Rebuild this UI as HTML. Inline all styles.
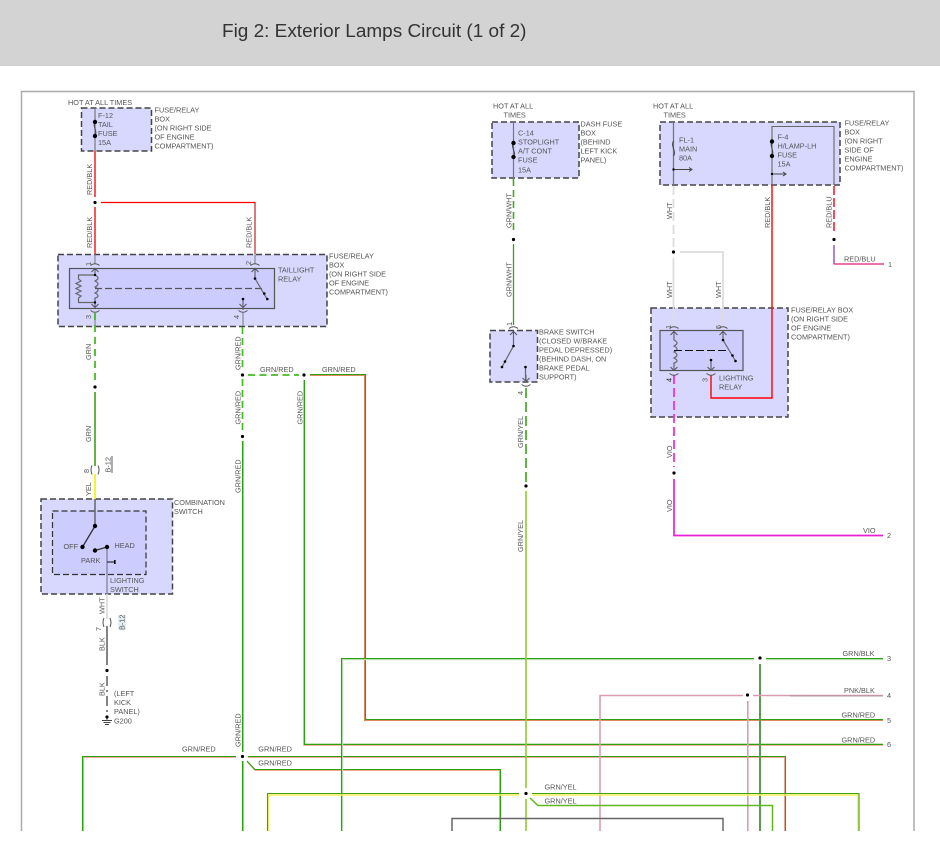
<!DOCTYPE html>
<html><head><meta charset="utf-8"><title>Fig 2: Exterior Lamps Circuit (1 of 2)</title>
<style>
html,body{margin:0;padding:0;background:#fff}
svg{display:block}
text{font-family:"Liberation Sans",sans-serif;font-size:7.3px;fill:#555}
.box{fill:#d8d8ff;stroke:#444;stroke-width:1.5;stroke-dasharray:6 3}
.in{fill:#ccccff;stroke:#555;stroke-width:1.2}
.ind{fill:#ccccff;stroke:#333;stroke-width:1.2;stroke-dasharray:6 3}
.g{fill:none;stroke:#666;stroke-width:1.2}
.k{fill:none;stroke:#444;stroke-width:1}
.p{fill:#000}
</style></head><body>
<svg width="940" height="856" viewBox="0 0 940 856" xmlns="http://www.w3.org/2000/svg">
<defs>
<g id="ct"><path d="M-4.5 1.5Q0 -2 4.5 1.5" fill="none" stroke="#555" stroke-width="1"/><path d="M-3.5 8L0 4.5L3.5 8M0 4.5V11" fill="none" stroke="#555" stroke-width="1"/></g>
<g id="cb"><path d="M-4.5 -1.5Q0 2 4.5 -1.5" fill="none" stroke="#555" stroke-width="1"/><path d="M-3.5 -8L0 -4.5L3.5 -8M0 -4.5V-11" fill="none" stroke="#555" stroke-width="1"/></g>
</defs>
<rect width="940" height="66" fill="#d3d3d3"/>
<text x="222" y="37" textLength="304.5" lengthAdjust="spacingAndGlyphs" style="font-size:18px;fill:#333">Fig 2: Exterior Lamps Circuit (1 of 2)</text>
<path d="M21.5 831V91.5H914V831" fill="none" stroke="#aaa" stroke-width="1.5"/>

<!-- boxes -->
<rect class="box" x="81.5" y="108" width="70" height="43"/>
<rect class="box" x="58" y="254.5" width="269" height="72"/>
<rect class="in" x="69.5" y="268.5" width="205" height="40"/>
<rect class="box" x="41" y="499" width="131.500" height="95"/>
<rect class="ind" x="52.500" y="511" width="93.500" height="63.500"/>
<rect class="box" x="492" y="122" width="87" height="56"/>
<rect class="box" x="660" y="122" width="180" height="63"/>
<rect class="box" x="490" y="330.500" width="47.500" height="51.500"/>
<rect class="box" x="651" y="308" width="137" height="109"/>
<rect class="in" x="660" y="330.500" width="83" height="40"/>

<!-- left column wires -->
<g fill="none">
<path d="M95 108V151" stroke="#777" stroke-width="1.2"/>
<path d="M95 151V197M95 207V254" stroke="#f03030" stroke-width="1.6"/>
<path d="M101 202.500H255V254" stroke="#f00" stroke-width="1.3"/>
<path d="M255 202.500V254" stroke="#777" stroke-width=".6"/>
<path d="M95 254V264M255 254V264M95 313V326M243 313V326" stroke="#777" stroke-width="1"/>
<path d="M95 313V385" stroke="#44bb22" stroke-width="1.8" stroke-dasharray="7 5"/>
<path d="M95 392V466" stroke="#55aa33" stroke-width="1.8"/>
<path d="M95 474V499" stroke="#f4f020" stroke-width="1.8"/>
<path d="M95 499V526" stroke="#666" stroke-width="1.5"/>
<path d="M107 547V594" stroke="#8a8aa8" stroke-width="1.5"/>
<path d="M107 594V619" stroke="#ddd" stroke-width="1.8"/>
<path d="M107 626V665" stroke="#666" stroke-width="1.6"/>
<path d="M107 676V715" stroke="#666" stroke-width="1.6" stroke-dasharray="10 4 2 4"/>
</g>

<!-- GRN/RED network -->
<g fill="none" stroke-width="1">
<path d="M310 375.500H364.500V720.500H883" stroke="#e08a60"/>
<path d="M303.500 380V745.500H883" stroke="#f0b8a8"/>
<path d="M304 743.500H883" stroke="#c8e4b8"/>
<path d="M243.500 441V752M243.500 761V831" stroke="#f0a898"/>
<path d="M83.500 831V757.500H236M248 757.500H784.500V831" stroke="#f0a898"/>
<path d="M247 762L255 770.500H499.500V831" stroke="#f0a898"/>
</g>
<g fill="none" stroke="#2aa010" stroke-width="1.100">
<path d="M310 374.500H365.500V719.500H883"/>
<path d="M304.500 380V744.500H883"/>
<path d="M242.500 441V752M242.500 761V831"/>
<path d="M82.500 831V756.500H236M248 756.500H785.500V831"/>
<path d="M247 761L255 769.500H500.500V831"/>
</g>
<path d="M242.500 327V370M242.500 379V432" fill="none" stroke="#44bb22" stroke-width="1.7" stroke-dasharray="7 4"/>
<path d="M248 375H299" fill="none" stroke="#44bb22" stroke-width="1.8" stroke-dasharray="7 4.500"/>

<!-- GRN/BLK -->
<path d="M342.500 831V659.500H754M766 659.500H883" fill="none" stroke="#b8e0b0" stroke-width="1.400"/>
<path d="M341.500 831V658.500H754M766 658.500H883" fill="none" stroke="#2aa010" stroke-width="1.100"/>
<path d="M760 664V831" fill="none" stroke="#5a9a50" stroke-width="2"/>
<!-- PNK/BLK -->
<path d="M600 831V695.500H743M753 695.500H883" fill="none" stroke="#dc9cb0" stroke-width="1.600"/>
<path d="M790 696H883" fill="none" stroke="#a08a90" stroke-width=".8"/>
<path d="M747.800 701V831" fill="none" stroke="#dc9cb0" stroke-width="1.600"/>
<!-- GRN/YEL -->
<path d="M268.500 831V795H519M532 795H858V831" fill="none" stroke="#f4f060" stroke-width="1.500"/>
<path d="M267.500 831V793.500H519M532 793.500H859V831" fill="none" stroke="#40a010" stroke-width="1.100"/>
<path d="M530 798L538 805.500H772.500V831" fill="none" stroke="#60b820" stroke-width="1.500"/>
<path d="M526 491V788M526 799V831" fill="none" stroke="#90cc30" stroke-width="1.600"/>
<!-- BLK box -->
<path d="M452 831V818.500H723V831" fill="none" stroke="#666" stroke-width="1.500"/>

<!-- center wires -->
<g fill="none">
<path d="M513.500 122V178" stroke="#777" stroke-width="1.200"/>
<path d="M513.500 179V234" stroke="#44aa22" stroke-width="1.600" stroke-dasharray="7 4"/>
<path d="M513.500 244V325" stroke="#449922" stroke-width="1.300"/>
<path d="M526 388V483" stroke="#44aa22" stroke-width="1.700" stroke-dasharray="10 4"/>
<path d="M673.500 122V185" stroke="#777" stroke-width="1.300"/>
<path d="M772 185V126.500H834V185" stroke="#666" stroke-width="1.100"/>
<path d="M673.500 186V247" stroke="#ddd" stroke-width="1.800" stroke-dasharray="9 4"/>
<path d="M680 252H723V326M673.500 258V326" stroke="#ddd" stroke-width="1.800"/>
<path d="M772 185V398H711V375" stroke="#f00" stroke-width="1.400"/>
<path d="M834 186V233" stroke="#f03040" stroke-width="1.700" stroke-dasharray="9 3"/>
<path d="M834 245V264" stroke="#8a50c0" stroke-width="1.400"/>
<path d="M834 264H884" stroke="#e84090" stroke-width="1.500"/>
<path d="M674 375V467" stroke="#f030e0" stroke-width="1.800" stroke-dasharray="9 4"/>
<path d="M674 479V535.500H883" stroke="#e820d8" stroke-width="1.700"/>
</g>

<!-- fuses -->
<g>
<path class="k" d="M95 122C92 126 98 131 95 136"/>
<path class="k" d="M513.500 143C510 147 517 152 513.500 157"/>
<path class="k" d="M673.500 141C670 146 677 151 673.500 156"/>
<path class="k" d="M772 141C769 146 775 151 772 156"/>
<path class="k" d="M673.500 169.500H692M689 167.500L692 169.500L689 171.500"/>
<path class="k" d="M772 174H786M783 172L786 174L783 176"/>
</g>
<g class="p">
<circle cx="95" cy="122" r="2.200"/><circle cx="95" cy="136" r="2.200"/>
<circle cx="513.500" cy="143" r="2.200"/><circle cx="513.500" cy="157" r="2.200"/>
<circle cx="772" cy="141.500" r="2.200"/><circle cx="772" cy="156" r="2.200"/>
<circle cx="673.500" cy="169.500" r="1.200"/><circle cx="772" cy="174" r="1.200"/>
</g>

<!-- taillight relay -->
<use href="#ct" x="95" y="264"/><use href="#ct" x="255" y="264"/>
<use href="#cb" x="95" y="312"/><use href="#cb" x="243" y="312"/>
<path class="g" d="M95 275C99 277 99 279 95 281C99 283 99 285 95 287C99 289 99 291 95 293C99 295 99 297 95 298L95 303"/>
<path class="g" d="M95 275H78.500V279L81 281L76 283.500L81 286L76 288.500L81 291L76 293.500L81 296L78.500 298V302.500H95"/>
<path d="M95 288.500H262" fill="none" stroke="#555" stroke-width="1.200" stroke-dasharray="7 3"/>
<path d="M255 270V278.500L267 299M243 299V310" class="g"/>
<g class="p"><circle cx="95" cy="275" r="1.200"/><circle cx="95" cy="302.500" r="1.200"/><circle cx="255" cy="278.500" r="1.300"/><circle cx="264.300" cy="293.500" r="1.300"/><circle cx="267.300" cy="299" r="1.300"/><circle cx="243" cy="299" r="1.300"/></g>

<!-- combination switch -->
<path d="M95 526L82.500 547M95 550.500L107 547M107 562H115" fill="none" stroke="#333" stroke-width="1.300"/>
<g class="p"><circle cx="95" cy="526" r="2.200"/><circle cx="82.500" cy="547" r="2.200"/><circle cx="95" cy="550.500" r="2.200"/><circle cx="107" cy="547" r="2.200"/><rect x="114" y="560" width="1.600" height="4"/></g>
<path d="M92 465.500Q90 470 92 474.500M98 465.500Q100 470 98 474.500" fill="none" stroke="#555" stroke-width="1"/>
<path d="M104 618Q102 622.500 104 627M110 618Q112 622.500 110 627" fill="none" stroke="#555" stroke-width="1"/>
<path d="M112 456V473" stroke="#333" stroke-width=".8"/>
<rect x="118" y="615" width="8" height="15" fill="#e4eff4"/>
<!-- ground -->
<path d="M107 717V720M102 720.500H112M103.500 722.500H110.500M105 724.500H109" fill="none" stroke="#444" stroke-width=".9"/>

<!-- brake switch -->
<use href="#ct" x="513.500" y="327"/>
<use href="#cb" x="526" y="386"/>
<path class="g" d="M513.500 334V346L502 367M525.500 367V382"/>
<g class="p"><circle cx="513.500" cy="346" r="1.300"/><circle cx="505" cy="361.500" r="1.300"/><circle cx="502" cy="367" r="1.300"/><circle cx="525.500" cy="367" r="1.300"/></g>

<!-- lighting relay -->
<use href="#ct" x="674" y="327"/><use href="#ct" x="723" y="327"/>
<use href="#cb" x="674" y="375"/><use href="#cb" x="711" y="375"/>
<path class="g" d="M674 336V340C678 342 678 344 674 346C678 348 678 350 674 352C678 354 678 356 674 358C678 360 678 362 674 363V370"/>
<path d="M674 350.500H728" fill="none" stroke="#111" stroke-width="1.100" stroke-dasharray="8 3"/>
<path class="g" d="M723 333V340L735.500 361M711 360V371"/>
<g class="p"><circle cx="723" cy="340" r="1.300"/><circle cx="732.500" cy="355.500" r="1.300"/><circle cx="735.500" cy="361" r="1.300"/><circle cx="711" cy="360" r="1.300"/></g>

<!-- junction dots -->
<g class="p">
<circle cx="95" cy="202.500" r="1.600"/><circle cx="95" cy="387" r="1.600"/>
<circle cx="107" cy="670.500" r="1.600"/><circle cx="107" cy="717" r="1.600"/>
<circle cx="242.500" cy="375" r="1.600"/><circle cx="304" cy="375" r="1.600"/><circle cx="242.500" cy="436.500" r="1.600"/><circle cx="242.500" cy="756.500" r="1.600"/>
<circle cx="513.500" cy="239.500" r="1.600"/><circle cx="526" cy="486" r="1.600"/><circle cx="526" cy="793.500" r="1.600"/>
<circle cx="673.500" cy="252" r="1.600"/><circle cx="834" cy="239.500" r="1.600"/><circle cx="674" cy="473" r="1.600"/>
<circle cx="760" cy="658" r="1.600"/><circle cx="747.500" cy="695" r="1.600"/>
</g>

<!-- horizontal labels -->
<text x="68" y="105">HOT AT ALL TIMES</text>
<text x="98" y="118">F-12</text><text x="98" y="127">TAIL</text><text x="98" y="136">FUSE</text><text x="98" y="145">15A</text>
<text x="154.500" y="112.700">FUSE/RELAY</text><text x="154.500" y="121.700">BOX</text><text x="154.500" y="130.700">(ON RIGHT SIDE</text><text x="154.500" y="139.700">OF ENGINE</text><text x="154.500" y="148.700">COMPARTMENT)</text>
<text x="329" y="258.700">FUSE/RELAY</text><text x="329" y="267.700">BOX</text><text x="329" y="276.700">(ON RIGHT SIDE</text><text x="329" y="285.700">OF ENGINE</text><text x="329" y="294.700">COMPARTMENT)</text>
<text x="278" y="272.700">TAILLIGHT</text><text x="278" y="281.700">RELAY</text>
<text x="493" y="108.500">HOT AT ALL</text><text x="503.500" y="117.500">TIMES</text>
<text x="518" y="135.700">C-14</text><text x="518" y="144.700">STOPLIGHT</text><text x="518" y="153.700">A/T CONT</text><text x="518" y="162.700">FUSE</text><text x="518" y="172.700">15A</text>
<text x="580.500" y="126.700">DASH FUSE</text><text x="580.500" y="135.700">BOX</text><text x="580.500" y="144.700">(BEHIND</text><text x="580.500" y="153.700">LEFT KICK</text><text x="580.500" y="162.700">PANEL)</text>
<text x="653" y="108.500">HOT AT ALL</text><text x="663.500" y="117.500">TIMES</text>
<text x="679" y="142.700">FL-1</text><text x="679" y="151.700">MAIN</text><text x="679" y="160.700">80A</text>
<text x="777.500" y="139.500">F-4</text><text x="777.500" y="148.500">H/LAMP-LH</text><text x="777.500" y="157.500">FUSE</text><text x="777.500" y="166.500">15A</text>
<text x="844.500" y="125.700">FUSE/RELAY</text><text x="844.500" y="134.700">BOX</text><text x="844.500" y="143.700">(ON RIGHT</text><text x="844.500" y="152.700">SIDE OF</text><text x="844.500" y="161.700">ENGINE</text><text x="844.500" y="170.700">COMPARTMENT)</text>
<text x="844" y="261.700">RED/BLU</text><text x="888" y="267">1</text>
<text x="791" y="312.700">FUSE/RELAY BOX</text><text x="791" y="321.700">(ON RIGHT SIDE</text><text x="791" y="330.700">OF ENGINE</text><text x="791" y="339.700">COMPARTMENT)</text>
<text x="719" y="380.700">LIGHTING</text><text x="719" y="389.700">RELAY</text>
<text x="539" y="334.700">BRAKE SWITCH</text><text x="539" y="343.700">(CLOSED W/BRAKE</text><text x="539" y="352.700">PEDAL DEPRESSED)</text><text x="539" y="361.700">(BEHIND DASH, ON</text><text x="539" y="370.700">BRAKE PEDAL</text><text x="539" y="379.700">SUPPORT)</text>
<text x="863" y="533">VIO</text><text x="887" y="538">2</text>
<text x="260" y="372">GRN/RED</text><text x="322" y="372">GRN/RED</text>
<text x="174" y="505">COMBINATION</text><text x="174" y="514">SWITCH</text>
<text x="63.500" y="549">OFF</text><text x="114.500" y="548">HEAD</text><text x="81" y="563">PARK</text>
<text x="110" y="583">LIGHTING</text><text x="110" y="592">SWITCH</text>
<text x="114" y="696">(LEFT</text><text x="114" y="705">KICK</text><text x="114" y="714">PANEL)</text><text x="114" y="723.500">G200</text>
<text x="842.500" y="656">GRN/BLK</text><text x="887" y="661">3</text>
<text x="844" y="693">PNK/BLK</text><text x="887" y="698">4</text>
<text x="841.500" y="717.500">GRN/RED</text><text x="887" y="723">5</text>
<text x="841.500" y="742.500">GRN/RED</text><text x="887" y="747">6</text>
<text x="182" y="751.700">GRN/RED</text><text x="258.300" y="751.700">GRN/RED</text><text x="258.300" y="765.700">GRN/RED</text>
<text x="544.500" y="789.700">GRN/YEL</text><text x="544.500" y="803.700">GRN/YEL</text>

<!-- rotated labels -->
<text transform="translate(92 195) rotate(-90)">RED/BLK</text>
<text transform="translate(92 248) rotate(-90)">RED/BLK</text>
<text transform="translate(251.500 248) rotate(-90)">RED/BLK</text>
<text transform="translate(91 266) rotate(-90)">1</text>
<text transform="translate(251 265) rotate(-90)">2</text>
<text transform="translate(91 319) rotate(-90)">3</text>
<text transform="translate(239 319) rotate(-90)">4</text>
<text transform="translate(91 360) rotate(-90)">GRN</text>
<text transform="translate(91 442) rotate(-90)">GRN</text>
<text transform="translate(89 473) rotate(-90)">8</text>
<text transform="translate(91 496) rotate(-90)">YEL</text>
<text transform="translate(110.500 472.500) rotate(-90)">B-12</text>
<text transform="translate(104.500 614) rotate(-90)">WHT</text>
<text transform="translate(101 631) rotate(-90)">7</text>
<text transform="translate(124.500 630) rotate(-90)">B-12</text>
<text transform="translate(104.500 651) rotate(-90)">BLK</text>
<text transform="translate(104.500 696) rotate(-90)">BLK</text>
<text transform="translate(240.500 370) rotate(-90)">GRN/RED</text>
<text transform="translate(240.500 424.500) rotate(-90)">GRN/RED</text>
<text transform="translate(240.500 493) rotate(-90)">GRN/RED</text>
<text transform="translate(240.500 747) rotate(-90)">GRN/RED</text>
<text transform="translate(302.500 424.500) rotate(-90)">GRN/RED</text>
<text transform="translate(511.500 228) rotate(-90)">GRN/WHT</text>
<text transform="translate(511.500 297) rotate(-90)">GRN/WHT</text>
<text transform="translate(512 326) rotate(-90)">1</text>
<text transform="translate(523 395) rotate(-90)">4</text>
<text transform="translate(523 448) rotate(-90)">GRN/YEL</text>
<text transform="translate(523 552) rotate(-90)">GRN/YEL</text>
<text transform="translate(672 219) rotate(-90)">WHT</text>
<text transform="translate(672 298) rotate(-90)">WHT</text>
<text transform="translate(721 298) rotate(-90)">WHT</text>
<text transform="translate(770 228) rotate(-90)">RED/BLK</text>
<text transform="translate(831.500 228) rotate(-90)">RED/BLU</text>
<text transform="translate(671 329) rotate(-90)">1</text>
<text transform="translate(721 329) rotate(-90)">5</text>
<text transform="translate(671.500 382) rotate(-90)" style="fill:#222">4</text>
<text transform="translate(707.500 382) rotate(-90)">3</text>
<text transform="translate(672 458) rotate(-90)">VIO</text>
<text transform="translate(672 512) rotate(-90)">VIO</text>
</svg>
</body></html>
